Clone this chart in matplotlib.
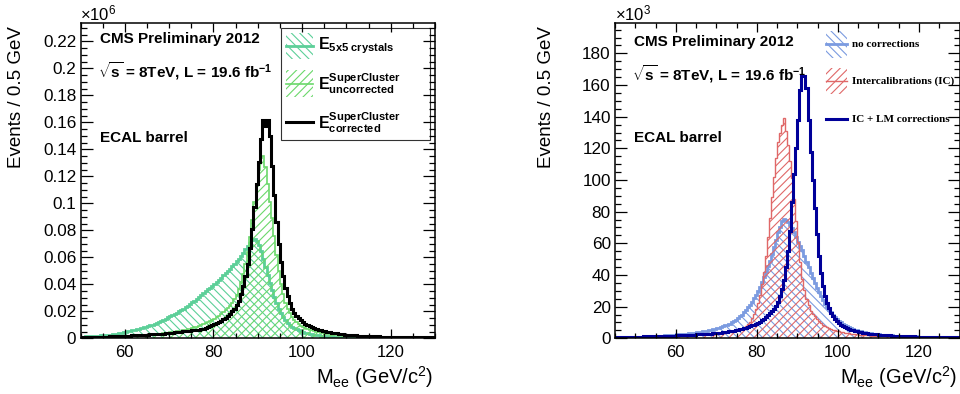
import numpy as np
import matplotlib
matplotlib.use('Agg')
import matplotlib.pyplot as plt
from matplotlib.patches import Rectangle
from matplotlib.lines import Line2D
from matplotlib.ticker import MultipleLocator, FuncFormatter

plt.rcParams['font.family'] = ['Liberation Sans', 'DejaVu Sans']
plt.rcParams['mathtext.fontset'] = 'custom'
plt.rcParams['mathtext.rm'] = 'Liberation Sans'
plt.rcParams['mathtext.bf'] = 'Liberation Sans:bold'
plt.rcParams['mathtext.it'] = 'Liberation Sans:italic'
plt.rcParams['hatch.linewidth'] = 0.8

# bin edges, 0.5 GeV bins
edges_l = np.arange(50, 130.5, 0.5)
edges_r = np.arange(45, 130.5, 0.5)

# ---- left panel, events in thousands (one row = 5 GeV) ----
e5x5 = [
    1.1, 1.2, 1.35, 1.5, 1.6, 1.7, 1.8, 1.9, 2.0, 2.15,
    2.3, 2.45, 2.6, 2.8, 3.0, 3.2, 3.4, 3.7, 4.0, 4.4,
    4.8, 5.1, 5.4, 5.8, 6.2, 6.6, 7.0, 7.5, 8.0, 8.5,
    9.0, 9.6, 10.2, 10.8, 11.5, 12.2, 13.0, 13.8, 14.6, 15.5,
    16.4, 17.3, 18.2, 19.1, 20.0, 20.7, 21.8, 23.0, 24.2, 25.4,
    26.6, 28.0, 29.3, 30.7, 32.0, 33.4, 34.8, 36.2, 37.6, 39.0,
    40.5, 42.0, 43.5, 45.0, 46.6, 48.2, 49.8, 51.5, 53.3, 55.1,
    57, 59, 61, 63.5, 66, 68.5, 70.5, 72.5, 73.5, 72,
    69, 64.5, 59, 53, 47, 41, 35.5, 30.5, 26, 22,
    18.8, 16, 13.6, 11.6, 10, 8.7, 7.6, 6.7, 5.9, 5.2,
    4.6, 4.1, 3.7, 3.3, 3.0, 2.7, 2.45, 2.2, 2.0, 1.85,
    1.7, 1.55, 1.45, 1.35, 1.25, 1.15, 1.1, 1.0, 0.95, 0.9,
    0.85, 0.8, 0.75, 0.7, 0.7, 0.65, 0.6, 0.6, 0.55, 0.55,
    0.5, 0.5, 0.48, 0.46, 0.44, 0.42, 0.4, 0.4, 0.38, 0.36,
    0.35, 0.34, 0.33, 0.32, 0.31, 0.3, 0.3, 0.29, 0.28, 0.28,
    0.27, 0.27, 0.26, 0.26, 0.25, 0.25, 0.25, 0.24, 0.24, 0.24,
]
sc_uncorr = [
    0.8, 0.8, 0.85, 0.9, 0.9, 0.95, 1.0, 1.0, 1.05, 1.1,
    1.15, 1.2, 1.25, 1.3, 1.35, 1.4, 1.45, 1.5, 1.6, 1.65,
    1.7, 1.8, 1.85, 1.95, 2.0, 2.1, 2.2, 2.3, 2.4, 2.5,
    2.6, 2.7, 2.85, 3.0, 3.15, 3.3, 3.5, 3.7, 3.9, 4.1,
    4.3, 4.5, 4.8, 5.1, 5.4, 5.7, 6.0, 6.4, 6.8, 7.2,
    7.6, 8.1, 8.6, 9.1, 9.7, 10.4, 11.1, 11.9, 12.7, 13.6,
    14.6, 15.6, 16.7, 17.9, 19.2, 20.7, 22.4, 24.3, 26.5, 29.0,
    32, 36.5, 41.5, 47.5, 55, 64, 75, 88, 101, 113,
    125, 134, 135, 127, 114, 101, 89, 76, 62, 50,
    40, 32.5, 26.5, 22, 18.5, 15.8, 13.6, 11.9, 10.5, 9.4,
    8.4, 7.6, 6.9, 6.3, 5.8, 5.3, 4.9, 4.5, 4.1, 3.8,
    3.5, 3.25, 3.0, 2.8, 2.6, 2.4, 2.25, 2.1, 2.0, 1.9,
    1.8, 1.7, 1.6, 1.5, 1.45, 1.4, 1.35, 1.3, 1.25, 1.2,
    1.15, 1.1, 1.05, 1.0, 1.0, 0.95, 0.95, 0.9, 0.9, 0.85,
    0.85, 0.8, 0.8, 0.75, 0.75, 0.7, 0.7, 0.7, 0.65, 0.65,
    0.65, 0.6, 0.6, 0.6, 0.55, 0.55, 0.55, 0.5, 0.5, 0.5,
]
sc_corr = [
    0.7, 0.7, 0.8, 0.8, 0.9, 0.9, 1.0, 1.0, 1.1, 1.1,
    1.2, 1.2, 1.3, 1.4, 1.4, 1.5, 1.6, 1.6, 1.7, 1.8,
    1.9, 1.9, 2.0, 2.1, 2.2, 2.3, 2.4, 2.5, 2.6, 2.7,
    2.8, 2.9, 3.0, 3.1, 3.2, 3.3, 3.4, 3.5, 3.6, 3.75,
    3.9, 4.1, 4.3, 4.5, 4.7, 4.9, 5.1, 5.3, 5.5, 5.7,
    5.9, 6.1, 6.3, 6.5, 6.8, 7.2, 7.7, 8.3, 9.0, 9.7,
    10.5, 11.3, 12.1, 13.0, 14.0, 15.2, 16.6, 18.2, 20.0, 22.0,
    24.5, 28, 32.5, 38.5, 46, 55, 67, 81, 97, 114,
    131, 148, 162, 157, 162, 150, 128, 106, 86, 70,
    56.5, 46, 37.5, 31, 26, 22, 19, 16.8, 15, 13.4,
    12.0, 10.9, 9.9, 9.0, 8.3, 7.6, 7.0, 6.5, 6.0, 5.6,
    5.2, 4.8, 4.5, 4.2, 3.9, 3.6, 3.4, 3.2, 3.0, 2.8,
    2.65, 2.5, 2.35, 2.2, 2.1, 2.0, 1.9, 1.8, 1.7, 1.6,
    1.55, 1.5, 1.45, 1.4, 1.35, 1.3, 1.25, 1.2, 1.2, 1.15,
    1.1, 1.1, 1.05, 1.0, 1.0, 0.95, 0.95, 0.9, 0.9, 0.85,
    0.85, 0.8, 0.8, 0.8, 0.75, 0.75, 0.7, 0.7, 0.7, 0.65,
]

# ---- right panel, events in thousands ----
no_corr = [
    0.53, 0.56, 0.59, 0.62, 0.65, 0.68, 0.72, 0.76, 0.8, 0.84,
    0.88, 0.93, 0.98, 1.03, 1.08, 1.14, 1.2, 1.26, 1.33, 1.4,
    1.48, 1.56, 1.64, 1.72, 1.8, 1.9, 2.0, 2.1, 2.2, 2.3,
    2.4, 2.5, 2.6, 2.7, 2.8, 2.95, 3.1, 3.25, 3.4, 3.55,
    3.7, 3.9, 4.1, 4.3, 4.5, 4.75, 5.0, 5.3, 5.6, 5.9,
    6.3, 6.7, 7.1, 7.6, 8.1, 8.7, 9.3, 10.0, 10.8, 11.7,
    12.7, 13.8, 15.0, 16.4, 17.9, 19.5, 21.3, 23.2, 25.3, 27.5,
    30.0, 32.5, 35.5, 38.5, 42.0, 45.5, 49.0, 53.0, 57.5, 62.0,
    67, 70.5, 74, 75.5, 75, 73.5, 71.5, 69.5, 67, 64,
    61, 58.5, 55.5, 52, 48.5, 45, 41.5, 38, 35, 32,
    29, 26.5, 24, 21.8, 19.8, 18, 16.3, 14.8, 13.4, 12.1,
    11, 10, 9.1, 8.3, 7.6, 7.0, 6.4, 5.9, 5.4, 5.0,
    4.6, 4.3, 4.0, 3.7, 3.45, 3.25, 3.05, 2.85, 2.7, 2.55,
    2.4, 2.3, 2.2, 2.1, 2.0, 1.92, 1.84, 1.76, 1.68, 1.6,
    1.53, 1.47, 1.42, 1.37, 1.32, 1.27, 1.22, 1.18, 1.14, 1.11,
    1.08, 1.05, 1.02, 1.0, 0.98, 0.96, 0.94, 0.92, 0.9, 0.88,
    0.86, 0.85, 0.84, 0.83, 0.82, 0.81, 0.8, 0.79, 0.78, 0.78,
]
ic = [
    0.6, 0.62, 0.65, 0.68, 0.7, 0.73, 0.76, 0.79, 0.82, 0.85,
    0.88, 0.92, 0.96, 1.0, 1.04, 1.08, 1.12, 1.16, 1.2, 1.25,
    1.3, 1.35, 1.4, 1.45, 1.5, 1.55, 1.6, 1.65, 1.7, 1.76,
    1.82, 1.88, 1.94, 2.0, 2.06, 2.12, 2.18, 2.24, 2.3, 2.36,
    2.42, 2.48, 2.54, 2.6, 2.66, 2.7, 2.74, 2.77, 2.8, 2.82,
    2.85, 2.95, 3.1, 3.3, 3.5, 3.7, 3.9, 4.15, 4.4, 4.7,
    5.0, 5.4, 6.0, 6.8, 7.8, 9.0, 10.6, 12.6, 15.2, 18.5,
    22.5, 27.5, 34, 42, 52, 64, 76, 89, 102, 114,
    124, 130, 135, 139, 131, 122, 112, 101, 88, 74,
    61, 48, 37.5, 30.5, 25, 21, 17.5, 15.5, 13.8, 12.2,
    10.8, 9.6, 8.6, 7.8, 7.1, 6.5, 6.0, 5.5, 5.1, 4.7,
    4.4, 4.1, 3.8, 3.55, 3.35, 3.15, 3.0, 2.8, 2.65, 2.5,
    2.35, 2.2, 2.1, 2.0, 1.9, 1.8, 1.7, 1.62, 1.55, 1.48,
    1.4, 1.35, 1.3, 1.25, 1.2, 1.15, 1.1, 1.06, 1.02, 0.98,
    0.95, 0.92, 0.89, 0.86, 0.83, 0.8, 0.78, 0.76, 0.74, 0.72,
    0.7, 0.68, 0.66, 0.64, 0.62, 0.6, 0.59, 0.58, 0.57, 0.56,
    0.55, 0.54, 0.53, 0.52, 0.51, 0.5, 0.49, 0.48, 0.47, 0.46,
]
ic_lm = [
    0.8, 0.8, 0.85, 0.85, 0.9, 0.9, 0.95, 0.95, 1.0, 1.0,
    1.05, 1.05, 1.1, 1.1, 1.15, 1.2, 1.2, 1.25, 1.3, 1.3,
    1.35, 1.4, 1.45, 1.5, 1.5, 1.55, 1.6, 1.65, 1.7, 1.75,
    1.8, 1.85, 1.9, 1.95, 2.0, 2.05, 2.1, 2.2, 2.25, 2.3,
    2.4, 2.45, 2.5, 2.6, 2.7, 2.8, 2.9, 3.0, 3.1, 3.2,
    3.3, 3.45, 3.6, 3.75, 3.9, 4.1, 4.3, 4.5, 4.8, 5.1,
    5.4, 5.7, 6.0, 6.4, 6.8, 7.2, 7.6, 8.1, 8.6, 9.2,
    9.8, 10.6, 11.5, 12.5, 13.6, 14.8, 16.0, 17.3, 18.7, 20.2,
    23, 26.5, 31, 37, 45, 55, 68, 86, 104, 120,
    138, 157, 166, 166, 158, 138, 118, 100, 82, 66,
    52, 41, 33, 27, 22.5, 19, 16.2, 14, 12.2, 10.8,
    9.6, 8.7, 7.9, 7.2, 6.6, 6.0, 5.5, 5.1, 4.7, 4.4,
    4.1, 3.85, 3.6, 3.4, 3.2, 3.0, 2.85, 2.7, 2.55, 2.4,
    2.3, 2.2, 2.1, 2.0, 1.9, 1.82, 1.75, 1.68, 1.6, 1.54,
    1.48, 1.42, 1.37, 1.32, 1.28, 1.24, 1.2, 1.16, 1.12, 1.09,
    1.06, 1.03, 1.0, 0.98, 0.96, 0.94, 0.92, 0.9, 0.88, 0.86,
    0.84, 0.82, 0.8, 0.79, 0.78, 0.77, 0.76, 0.75, 0.74, 0.73,
]

c_5x5 = '#5ccf98'
c_unc = '#6bd86b'
c_nocorr = '#7b9be0'
c_ic = '#e06868'
c_iclm = '#000099'


def hist(ax, vals, edges, color, lw, hatch=None):
    if hatch:
        ax.stairs(vals, edges, fill=True, facecolor='none', edgecolor=color,
                  hatch=hatch, linewidth=0)
    ax.stairs(vals, edges, color=color, linewidth=lw)


def style(ax, xlim, ylim, ymaj, ymin):
    ax.set_xlim(*xlim)
    ax.set_ylim(*ylim)
    ax.xaxis.set_major_locator(MultipleLocator(20))
    ax.xaxis.set_minor_locator(MultipleLocator(5))
    ax.yaxis.set_major_locator(MultipleLocator(ymaj))
    ax.yaxis.set_minor_locator(MultipleLocator(ymin))
    ax.tick_params(which='both', direction='in', top=True, right=True, width=0.9)
    ax.tick_params(axis='x', which='major', length=6.5, labelsize=12, pad=5)
    ax.tick_params(axis='x', which='minor', length=3.3)
    ax.tick_params(axis='y', which='major', length=8.5, labelsize=12.3, pad=3)
    ax.tick_params(axis='y', which='minor', length=4.3)
    for s in ax.spines.values():
        s.set_linewidth(1.1)
    ax.set_ylabel('Events / 0.5 GeV', fontsize=13.5, loc='top')
    ax.set_xlabel(r'M$_{\mathregular{ee}}$ (GeV/c$^{\mathregular{2}}$)', fontsize=14.5, loc='right')
    ax.xaxis.set_label_coords(0.995, -0.082)


fig = plt.figure(figsize=(9.6, 3.94), dpi=100)
ax1 = fig.add_axes([80.5 / 960, 0.1414, 354.5 / 960, 0.7995])
ax2 = fig.add_axes([615 / 960, 0.1414, 344.5 / 960, 0.7995])

# left panel
hist(ax1, np.array(e5x5) / 1000, edges_l, c_5x5, 2.0, '\\\\\\\\')
hist(ax1, np.array(sc_uncorr) / 1000, edges_l, c_unc, 1.2, '////')
hist(ax1, np.array(sc_corr) / 1000, edges_l, 'black', 2.2)
style(ax1, (50, 130), (0, 0.2335), 0.02, 0.005)
ax1.yaxis.set_major_formatter(FuncFormatter(lambda v, p: '%g' % round(v, 3)))
ax1.yaxis.set_label_coords(-0.157, 0.99)
ax1.text(0.0, 1.0, '×10$^{\\mathregular{6}}$', transform=ax1.transAxes,
         ha='left', va='bottom', fontsize=12)

# right panel
hist(ax2, no_corr, edges_r, c_nocorr, 2.0, '\\\\\\\\')
hist(ax2, ic, edges_r, c_ic, 1.0, '////')
hist(ax2, ic_lm, edges_r, c_iclm, 2.2)
style(ax2, (45, 130), (0, 199), 20, 5)
ax2.yaxis.set_label_coords(-0.173, 0.99)
ax2.text(0.0, 1.0, '×10$^{\\mathregular{3}}$', transform=ax2.transAxes,
         ha='left', va='bottom', fontsize=12)

for ax, ys in ((ax1, (0.949, 0.847, 0.637)), (ax2, (0.94, 0.838, 0.637))):
    ax.text(0.056, ys[0], 'CMS Preliminary 2012', transform=ax.transAxes,
            fontsize=11, fontweight='bold', va='center')
    ax.text(0.048, ys[1], r'$\sqrt{\mathbf{s}}$ = 8TeV, L = 19.6 fb$^{\mathbf{-1}}$',
            transform=ax.transAxes, fontsize=11, fontweight='bold', va='center')
    ax.text(0.056, ys[2], 'ECAL barrel', transform=ax.transAxes,
            fontsize=11, fontweight='bold', va='center')

# left legend
ax1.add_patch(Rectangle((0.5666, 0.631), 0.4194, 0.355, transform=ax1.transAxes,
                        fill=False, edgecolor='#333333', lw=0.8))
leg_l = [
    (c_5x5, '\\\\\\\\', 2.0, r'$\mathbf{E}_{\mathbf{5x5\ crystals}}$', 0.928),
    (c_unc, '////', 1.2, r'$\mathbf{E}^{\mathbf{SuperCluster}}_{\mathbf{uncorrected}}$', 0.808),
    ('black', None, 2.2, r'$\mathbf{E}^{\mathbf{SuperCluster}}_{\mathbf{corrected}}$', 0.686),
]
for col, h, lw, lab, yc in leg_l:
    if h:
        ax1.add_patch(Rectangle((0.5806, yc - 0.0425), 0.0747, 0.085, transform=ax1.transAxes,
                                facecolor='none', edgecolor=col, hatch=h, lw=0))
    ax1.add_line(Line2D([0.5806, 0.6553], [yc, yc], transform=ax1.transAxes, color=col, lw=lw))
    ax1.text(0.671, yc, lab, transform=ax1.transAxes, fontsize=11.5, va='center')

# right legend
leg_r = [
    (c_nocorr, '\\\\\\\\', 2.0, 'no corrections', 0.933),
    (c_ic, '////', 1.0, 'Intercalibrations (IC)', 0.8165),
    (c_iclm, None, 2.2, 'IC + LM corrections', 0.6946),
]
for col, h, lw, lab, yc in leg_r:
    if h:
        ax2.add_patch(Rectangle((0.612, yc - 0.0423), 0.0612, 0.0846, transform=ax2.transAxes,
                                facecolor='none', edgecolor=col, hatch=h, lw=0))
    ax2.add_line(Line2D([0.612, 0.6732], [yc, yc], transform=ax2.transAxes, color=col, lw=lw))
    ax2.text(0.687, yc, lab, transform=ax2.transAxes, fontsize=8, va='center',
             family='Liberation Serif', fontweight='bold')

fig.savefig('out.png', dpi=100)
